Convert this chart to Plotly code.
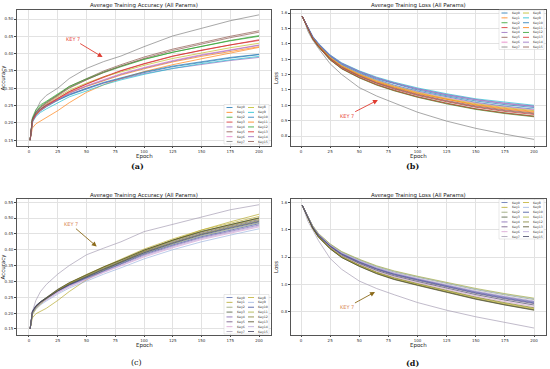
import plotly.graph_objects as go

# ---------------- data ----------------
EPOCHS = [1, 3, 6, 10, 15, 25, 35, 50, 65, 80, 100, 125, 150, 175, 200]
KEYS = [f"Key{i}" for i in range(16)]
X_TICKS = [0, 25, 50, 75, 100, 125, 150, 175, 200]
Y_TICKS_A = [0.15, 0.20, 0.25, 0.30, 0.35, 0.40, 0.45, 0.50]
Y_TICKS_B = [0.8, 0.9, 1.0, 1.1, 1.2, 1.3, 1.4, 1.5, 1.6]
Y_TICKS_C = [0.15, 0.20, 0.25, 0.30, 0.35, 0.40, 0.45, 0.50, 0.55]
Y_TICKS_D = [0.8, 1.0, 1.2, 1.4, 1.6]

# (a) average training accuracy
ACC_A = [
    [0.15, 0.205, 0.222, 0.235, 0.246, 0.265, 0.280, 0.298, 0.315, 0.328, 0.345, 0.362, 0.375, 0.387, 0.397],
    [0.15, 0.185, 0.197, 0.205, 0.215, 0.235, 0.258, 0.288, 0.310, 0.328, 0.348, 0.368, 0.385, 0.402, 0.418],
    [0.15, 0.210, 0.232, 0.248, 0.260, 0.280, 0.302, 0.325, 0.345, 0.362, 0.383, 0.404, 0.422, 0.438, 0.452],
    [0.15, 0.205, 0.225, 0.240, 0.252, 0.272, 0.290, 0.312, 0.332, 0.350, 0.370, 0.392, 0.410, 0.426, 0.440],
    [0.15, 0.208, 0.225, 0.238, 0.250, 0.268, 0.283, 0.300, 0.315, 0.327, 0.342, 0.357, 0.369, 0.380, 0.389],
    [0.15, 0.212, 0.230, 0.245, 0.258, 0.280, 0.305, 0.328, 0.350, 0.368, 0.390, 0.413, 0.432, 0.450, 0.466],
    [0.15, 0.207, 0.226, 0.240, 0.252, 0.270, 0.288, 0.308, 0.326, 0.342, 0.360, 0.380, 0.397, 0.412, 0.425],
    [0.15, 0.200, 0.235, 0.262, 0.279, 0.300, 0.328, 0.357, 0.377, 0.393, 0.420, 0.451, 0.473, 0.495, 0.512],
    [0.15, 0.206, 0.224, 0.240, 0.253, 0.275, 0.294, 0.315, 0.333, 0.348, 0.366, 0.386, 0.402, 0.417, 0.430],
    [0.15, 0.202, 0.218, 0.230, 0.240, 0.258, 0.275, 0.292, 0.310, 0.324, 0.340, 0.357, 0.371, 0.382, 0.392],
    [0.15, 0.210, 0.228, 0.240, 0.250, 0.266, 0.281, 0.300, 0.317, 0.330, 0.347, 0.364, 0.377, 0.389, 0.398],
    [0.15, 0.204, 0.222, 0.236, 0.248, 0.268, 0.287, 0.305, 0.322, 0.338, 0.356, 0.376, 0.392, 0.407, 0.420],
    [0.15, 0.215, 0.238, 0.252, 0.262, 0.283, 0.305, 0.327, 0.347, 0.364, 0.384, 0.404, 0.421, 0.437, 0.450],
    [0.15, 0.206, 0.224, 0.238, 0.250, 0.270, 0.290, 0.312, 0.333, 0.351, 0.371, 0.393, 0.410, 0.425, 0.438],
    [0.15, 0.203, 0.220, 0.234, 0.247, 0.266, 0.285, 0.306, 0.324, 0.340, 0.358, 0.378, 0.395, 0.410, 0.424],
    [0.15, 0.210, 0.230, 0.244, 0.256, 0.278, 0.300, 0.324, 0.346, 0.364, 0.386, 0.409, 0.428, 0.446, 0.462],
]

# (b) average training loss
LOSS_B = [
    [1.58, 1.551, 1.502, 1.443, 1.395, 1.317, 1.263, 1.209, 1.166, 1.131, 1.092, 1.053, 1.019, 0.994, 0.975],
    [1.58, 1.550, 1.500, 1.440, 1.390, 1.310, 1.255, 1.200, 1.155, 1.120, 1.080, 1.040, 1.005, 0.980, 0.960],
    [1.58, 1.549, 1.496, 1.433, 1.381, 1.297, 1.239, 1.182, 1.135, 1.098, 1.056, 1.014, 0.977, 0.951, 0.930],
    [1.58, 1.549, 1.497, 1.435, 1.384, 1.302, 1.245, 1.188, 1.142, 1.105, 1.064, 1.023, 0.987, 0.960, 0.940],
    [1.58, 1.552, 1.504, 1.447, 1.400, 1.324, 1.272, 1.220, 1.177, 1.144, 1.106, 1.068, 1.035, 1.011, 0.992],
    [1.58, 1.550, 1.499, 1.438, 1.387, 1.306, 1.250, 1.194, 1.148, 1.113, 1.072, 1.031, 0.996, 0.970, 0.950],
    [1.58, 1.551, 1.501, 1.442, 1.393, 1.315, 1.260, 1.206, 1.162, 1.127, 1.088, 1.049, 1.015, 0.990, 0.970],
    [1.58, 1.545, 1.480, 1.425, 1.370, 1.270, 1.200, 1.115, 1.060, 1.015, 0.955, 0.897, 0.850, 0.812, 0.778],
    [1.58, 1.550, 1.501, 1.441, 1.392, 1.312, 1.258, 1.203, 1.159, 1.124, 1.084, 1.044, 1.010, 0.985, 0.965],
    [1.58, 1.552, 1.505, 1.449, 1.403, 1.328, 1.276, 1.224, 1.183, 1.150, 1.113, 1.075, 1.042, 1.019, 1.000],
    [1.58, 1.551, 1.503, 1.446, 1.398, 1.321, 1.268, 1.215, 1.172, 1.139, 1.100, 1.062, 1.028, 1.004, 0.985],
    [1.58, 1.550, 1.499, 1.439, 1.389, 1.308, 1.252, 1.197, 1.152, 1.116, 1.076, 1.036, 1.001, 0.975, 0.955],
    [1.58, 1.549, 1.496, 1.432, 1.380, 1.295, 1.237, 1.178, 1.131, 1.094, 1.052, 1.009, 0.973, 0.946, 0.925],
    [1.58, 1.549, 1.496, 1.433, 1.381, 1.296, 1.238, 1.180, 1.133, 1.096, 1.054, 1.012, 0.976, 0.949, 0.928],
    [1.58, 1.552, 1.505, 1.448, 1.401, 1.326, 1.273, 1.221, 1.179, 1.146, 1.108, 1.070, 1.038, 1.014, 0.995],
    [1.58, 1.550, 1.498, 1.436, 1.386, 1.304, 1.247, 1.191, 1.145, 1.109, 1.068, 1.027, 0.991, 0.965, 0.945],
]

# (c) average training accuracy
ACC_C = [
    [0.15, 0.200, 0.218, 0.232, 0.246, 0.271, 0.291, 0.316, 0.339, 0.361, 0.391, 0.422, 0.449, 0.470, 0.490],
    [0.15, 0.185, 0.198, 0.205, 0.215, 0.240, 0.268, 0.305, 0.335, 0.362, 0.396, 0.430, 0.462, 0.488, 0.512],
    [0.15, 0.198, 0.216, 0.231, 0.244, 0.269, 0.289, 0.313, 0.336, 0.358, 0.388, 0.418, 0.444, 0.465, 0.485],
    [0.15, 0.202, 0.220, 0.235, 0.248, 0.274, 0.295, 0.321, 0.345, 0.367, 0.398, 0.430, 0.458, 0.479, 0.500],
    [0.15, 0.205, 0.222, 0.234, 0.245, 0.268, 0.287, 0.310, 0.332, 0.354, 0.383, 0.412, 0.438, 0.459, 0.478],
    [0.15, 0.203, 0.220, 0.234, 0.247, 0.272, 0.293, 0.318, 0.342, 0.364, 0.395, 0.426, 0.453, 0.475, 0.495],
    [0.15, 0.200, 0.217, 0.230, 0.241, 0.264, 0.283, 0.306, 0.328, 0.349, 0.377, 0.406, 0.432, 0.452, 0.472],
    [0.15, 0.205, 0.240, 0.268, 0.290, 0.323, 0.350, 0.384, 0.405, 0.425, 0.457, 0.480, 0.503, 0.526, 0.542],
    [0.15, 0.195, 0.212, 0.226, 0.245, 0.272, 0.295, 0.322, 0.347, 0.370, 0.402, 0.434, 0.462, 0.484, 0.505],
    [0.15, 0.197, 0.213, 0.226, 0.238, 0.260, 0.279, 0.302, 0.323, 0.343, 0.371, 0.400, 0.425, 0.446, 0.466],
    [0.15, 0.206, 0.224, 0.236, 0.247, 0.270, 0.289, 0.312, 0.335, 0.356, 0.386, 0.415, 0.441, 0.462, 0.482],
    [0.15, 0.199, 0.217, 0.231, 0.245, 0.271, 0.293, 0.319, 0.343, 0.366, 0.397, 0.428, 0.456, 0.477, 0.498],
    [0.15, 0.201, 0.219, 0.233, 0.246, 0.271, 0.292, 0.317, 0.340, 0.362, 0.393, 0.423, 0.450, 0.472, 0.492],
    [0.15, 0.204, 0.222, 0.236, 0.249, 0.275, 0.296, 0.322, 0.346, 0.368, 0.399, 0.430, 0.457, 0.479, 0.500],
    [0.15, 0.201, 0.218, 0.231, 0.243, 0.266, 0.285, 0.308, 0.330, 0.351, 0.380, 0.409, 0.435, 0.455, 0.475],
    [0.15, 0.203, 0.221, 0.234, 0.246, 0.270, 0.290, 0.315, 0.338, 0.360, 0.390, 0.420, 0.447, 0.468, 0.488],
]

# (d) average training loss
LOSS_D = [
    [1.58, 1.545, 1.492, 1.423, 1.364, 1.286, 1.227, 1.169, 1.120, 1.081, 1.041, 0.993, 0.948, 0.910, 0.875],
    [1.58, 1.543, 1.485, 1.411, 1.347, 1.263, 1.200, 1.137, 1.084, 1.042, 0.999, 0.947, 0.899, 0.857, 0.820],
    [1.58, 1.546, 1.494, 1.427, 1.369, 1.292, 1.235, 1.178, 1.129, 1.091, 1.053, 1.005, 0.962, 0.924, 0.890],
    [1.58, 1.543, 1.484, 1.410, 1.346, 1.261, 1.197, 1.134, 1.080, 1.038, 0.996, 0.943, 0.895, 0.852, 0.815],
    [1.58, 1.545, 1.491, 1.422, 1.363, 1.284, 1.225, 1.166, 1.116, 1.077, 1.038, 0.989, 0.944, 0.905, 0.870],
    [1.58, 1.545, 1.490, 1.420, 1.360, 1.280, 1.220, 1.160, 1.110, 1.070, 1.030, 0.980, 0.935, 0.895, 0.860],
    [1.58, 1.544, 1.487, 1.416, 1.354, 1.271, 1.210, 1.149, 1.097, 1.056, 1.015, 0.964, 0.917, 0.876, 0.840],
    [1.58, 1.530, 1.460, 1.400, 1.320, 1.190, 1.110, 1.025, 0.970, 0.925, 0.868, 0.812, 0.764, 0.723, 0.682],
    [1.58, 1.543, 1.486, 1.412, 1.349, 1.265, 1.202, 1.140, 1.087, 1.045, 1.003, 0.951, 0.904, 0.862, 0.825],
    [1.58, 1.546, 1.494, 1.428, 1.370, 1.294, 1.237, 1.181, 1.133, 1.095, 1.057, 1.009, 0.966, 0.929, 0.895],
    [1.58, 1.545, 1.491, 1.421, 1.361, 1.282, 1.222, 1.163, 1.113, 1.074, 1.034, 0.984, 0.939, 0.900, 0.865],
    [1.58, 1.547, 1.495, 1.429, 1.372, 1.296, 1.240, 1.184, 1.136, 1.099, 1.060, 1.014, 0.971, 0.933, 0.900],
    [1.58, 1.543, 1.486, 1.413, 1.350, 1.267, 1.205, 1.143, 1.090, 1.049, 1.007, 0.955, 0.908, 0.867, 0.830],
    [1.58, 1.542, 1.484, 1.410, 1.345, 1.260, 1.196, 1.132, 1.078, 1.036, 0.993, 0.940, 0.892, 0.850, 0.812],
    [1.58, 1.546, 1.492, 1.425, 1.366, 1.288, 1.230, 1.172, 1.123, 1.084, 1.045, 0.997, 0.953, 0.914, 0.880],
    [1.58, 1.544, 1.489, 1.418, 1.357, 1.276, 1.215, 1.154, 1.103, 1.063, 1.022, 0.972, 0.926, 0.886, 0.850],
]

# ---------------- styles ----------------
TAB10 = ['#1f77b4', '#ff7f0e', '#2ca02c', '#d62728', '#9467bd',
         '#8c564b', '#e377c2', '#7f7f7f', '#bcbd22', '#17becf']
COLORS_AB = TAB10 + TAB10[:6]
COLORS_CD = ['#5b6fb0', '#b5a82a', '#8f9e6e', '#4b5a3a', '#7e62b0', '#6a4f7e',
             '#d8a0d0', '#a59cb2', '#c0b030', '#9db4e0', '#3e4f9a', '#a6ad3c',
             '#7d7d30', '#4e4a22', '#b9a6d8', '#3d3f5e']

W, H = 550, 369
FONT = 'DejaVu Sans'


def px(x):
    return x / W


def py(y):
    return 1 - y / H


fig = go.Figure()

panels = [
    dict(data=ACC_A, colors=COLORS_AB, xa='x', ya='y'),
    dict(data=LOSS_B, colors=COLORS_AB, xa='x2', ya='y2'),
    dict(data=ACC_C, colors=COLORS_CD, xa='x3', ya='y3'),
    dict(data=LOSS_D, colors=COLORS_CD, xa='x4', ya='y4'),
]
for p in panels:
    for k in range(16):
        fig.add_trace(go.Scatter(
            x=EPOCHS, y=p['data'][k], mode='lines', name=KEYS[k],
            line=dict(color=p['colors'][k], width=0.8), opacity=0.85,
            xaxis=p['xa'], yaxis=p['ya'], showlegend=False,
            hoverinfo='skip'))


def xaxis(domain, anchor, rng):
    return dict(domain=domain, anchor=anchor, range=rng, tickvals=X_TICKS,
                ticks='outside', ticklen=1.5, tickwidth=0.6, tickcolor='#444',
                tickfont=dict(size=4, color='#333', family=FONT),
                showline=True, mirror=True, linecolor='#555', linewidth=0.7,
                showgrid=True, gridcolor='#e2e2e2', gridwidth=0.6, zeroline=False)


def yaxis(domain, anchor, rng, tickvals, fmt, title):
    return dict(domain=domain, anchor=anchor, range=rng, tickvals=tickvals,
                tickformat=fmt, ticks='outside', ticklen=2, tickwidth=0.6,
                tickcolor='#444', tickfont=dict(size=4, color='#333', family=FONT),
                showline=True, mirror=True, linecolor='#555', linewidth=0.7,
                showgrid=True, gridcolor='#e2e2e2', gridwidth=0.6, zeroline=False,
                title=dict(text=title, font=dict(size=5.5, color='#222', family=FONT),
                           standoff=2))


DX_L = [px(17), px(271)]
DX_R = [px(291), px(546)]
DY_T = [py(146), py(10)]
DY_B = [py(335), py(199)]

fig.update_layout(
    width=W, height=H, margin=dict(l=0, r=0, t=0, b=0),
    paper_bgcolor='white', plot_bgcolor='white', showlegend=False,
    font=dict(family=FONT),
    xaxis=xaxis(DX_L, 'y', [-10.4, 210.4]),
    yaxis=yaxis(DY_T, 'x', [0.133, 0.526], Y_TICKS_A, '.2f', 'Accuracy'),
    xaxis2=xaxis(DX_R, 'y2', [-8.6, 210.3]),
    yaxis2=yaxis(DY_T, 'x2', [0.735, 1.62], Y_TICKS_B, '.1f', 'Loss'),
    xaxis3=xaxis(DX_L, 'y3', [-10.4, 210.4]),
    yaxis3=yaxis(DY_B, 'x3', [0.131, 0.560], Y_TICKS_C, '.2f', 'Accuracy'),
    xaxis4=xaxis(DX_R, 'y4', [-8.6, 210.3]),
    yaxis4=yaxis(DY_B, 'x4', [0.631, 1.624], Y_TICKS_D, '.1f', 'Loss'),
)

annotations = []
shapes = []

# subplot titles
for cx, cy, txt in [((17 + 271) / 2, 6, 'Average Training Accuracy (All Params)'),
                    ((291 + 546) / 2, 6, 'Average Training Loss (All Params)'),
                    ((17 + 271) / 2, 195, 'Average Training Accuracy (All Params)'),
                    ((291 + 546) / 2, 195, 'Average Training Loss (All Params)')]:
    annotations.append(dict(x=px(cx), y=py(cy), xref='paper', yref='paper',
                            text=txt, showarrow=False, xanchor='center', yanchor='middle',
                            font=dict(size=5.5, color='#222', family=FONT)))

# x-axis titles
for cx, cy in [(144, 156.5), (418.5, 156.5), (144, 345.5), (418.5, 345.5)]:
    annotations.append(dict(x=px(cx), y=py(cy), xref='paper', yref='paper',
                            text='Epoch', showarrow=False, xanchor='center', yanchor='middle',
                            font=dict(size=5.5, color='#222', family=FONT)))

# panel letters
for cx, cy, txt in [(137, 166, '<b>(a)</b>'), (412, 166, '<b>(b)</b>'),
                    (136, 362.5, '(c)'), (412, 362.5, '<b>(d)</b>')]:
    annotations.append(dict(x=px(cx), y=py(cy), xref='paper', yref='paper',
                            text=txt, showarrow=False, xanchor='center', yanchor='middle',
                            font=dict(size=8, color='#111', family='DejaVu Serif')))

# KEY 7 callouts
callouts = [
    ('x', 'y', 64, 0.39, 38, 0.442, '#e84a3f', '#e03c31'),
    ('x2', 'y2', 66, 1.034, 39.2, 0.93, '#e84a3f', '#e03c31'),
    ('x3', 'y3', 58.9, 0.41, 36.3, 0.4805, '#d9895a', '#8b6a1a'),
    ('x4', 'y4', 63.5, 0.945, 39.2, 0.832, '#d9895a', '#8b6a1a'),
]
for xr, yr, hx, hy, tx, ty, tc, ac in callouts:
    annotations.append(dict(x=hx, y=hy, ax=tx, ay=ty, xref=xr, yref=yr,
                            axref=xr, ayref=yr, text='KEY 7', showarrow=True,
                            arrowhead=2, arrowsize=1.1, arrowwidth=0.9, arrowcolor=ac,
                            font=dict(size=5, color=tc, family=FONT)))

# manual legends (two columns of eight)
ROW = 4.86


def legend(bx0, by0, colors):
    shapes.append(dict(type='rect', xref='paper', yref='paper',
                       x0=px(bx0), x1=px(bx0 + 45), y0=py(by0), y1=py(by0 + 39.5),
                       line=dict(color='#d0d0d0', width=0.5), fillcolor='rgba(255,255,255,0.85)',
                       layer='above'))
    for k in range(16):
        col, row = divmod(k, 8)
        yy = by0 + 3 + row * ROW
        lx0 = bx0 + 2.5 + col * 21.5
        shapes.append(dict(type='line', xref='paper', yref='paper',
                           x0=px(lx0), x1=px(lx0 + 6), y0=py(yy), y1=py(yy),
                           line=dict(color=colors[k], width=0.8), layer='above'))
        annotations.append(dict(x=px(lx0 + 8), y=py(yy), xref='paper', yref='paper',
                                text=KEYS[k], showarrow=False, xanchor='left',
                                yanchor='middle',
                                font=dict(size=3.2, color='#333', family=FONT)))


legend(224, 104.5, COLORS_AB)
legend(499, 10, COLORS_AB)
legend(224, 294.5, COLORS_CD)
legend(499, 199.5, COLORS_CD)

fig.update_layout(annotations=annotations, shapes=shapes)
fig.write_html("out.html", config={'displayModeBar': False},
               post_script="document.body.style.margin='0';document.body.style.padding='0';")
